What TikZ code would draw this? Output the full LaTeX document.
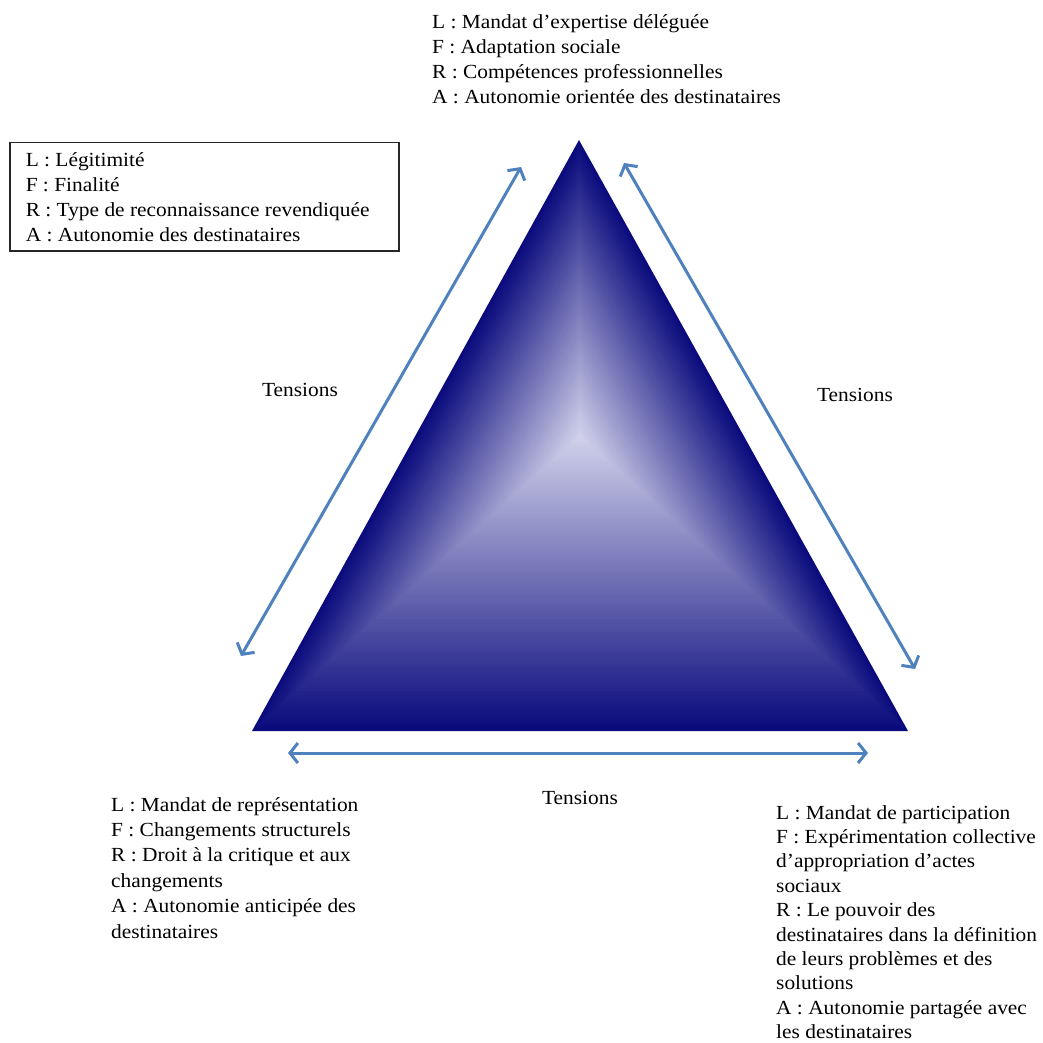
\documentclass[tikz,border=0pt]{standalone}
\usepackage{fontspec}
\setmainfont{Liberation Serif}[FakeStretch=1.07]
\usetikzlibrary{arrows.meta,calc,positioning}
\definecolor{navyedge}{RGB}{10,10,125}
\definecolor{lavcenter}{RGB}{208,208,234}
\definecolor{arrowblue}{RGB}{79,129,189}

\begin{document}
\begin{tikzpicture}[x=1pt, y=-1pt, font=\fontsize{20}{25}\selectfont,
    bloc/.style={anchor=north west, align=flush left, inner sep=0pt},
    motcote/.style={inner sep=0pt},
    fleche/.style={arrowblue, line width=3pt,
      {Straight Barb[length=8pt,width=20pt]}-{Straight Barb[length=8pt,width=20pt]}}]
  \useasboundingbox (0,0) rectangle (1042,1043);

  % sommets du triangle
  \coordinate (apex) at (579,140);
  \coordinate (bl) at (252,731);
  \coordinate (br) at (908,731);
  \coordinate (ctr) at (580,436);

  % degrade du centre vers les bords
  \foreach \k in {0,...,89}{
    \pgfmathsetmacro\fr{1-\k/90}
    \pgfmathsetmacro\mix{100*\k/89}
    \fill[lavcenter!\mix!navyedge] ($(ctr)!\fr!(apex)$) -- ($(ctr)!\fr!(bl)$) -- ($(ctr)!\fr!(br)$) -- cycle;
  }

  % textes
  \node[bloc] (haut) at (432,14) {L : Mandat d’expertise déléguée\\F : Adaptation sociale\\R : Compétences professionnelles\\A : Autonomie orientée des destinataires};
  \node[draw=black!85, line width=1.5pt, anchor=north west, align=flush left, text width=357pt, minimum width=389pt, minimum height=108pt, inner xsep=16pt] (legende) at (9,142) {L : Légitimité\\F : Finalité\\R : Type de reconnaissance revendiquée\\A : Autonomie des destinataires};
  \node[bloc, font=\fontsize{20}{25.4}\selectfont] (basgauche) at (111,797) {L : Mandat de représentation\\F : Changements structurels\\R : Droit à la critique et aux\\changements\\A : Autonomie anticipée des\\destinataires};
  \node[bloc, font=\fontsize{20}{24.4}\selectfont] (basdroite) at (776,805) {L : Mandat de participation\\F : Expérimentation collective\\d’appropriation d’actes\\sociaux\\R : Le pouvoir des\\destinataires dans la définition\\de leurs problèmes et des\\solutions\\A : Autonomie partagée avec\\les destinataires};

  \node[motcote] (tgauche) at (300,390) {Tensions};
  \node[motcote] (tdroite) at (855,395) {Tensions};
  \node[motcote] (tbas) at (580,798) {Tensions};

  % fleches
  \coordinate (g1) at (241,656);
  \coordinate (g2) at (521,167);
  \coordinate (d1) at (624,163);
  \coordinate (d2) at (915,669);
  \coordinate (b1) at (288,753);
  \coordinate (b2) at (868,753);
  \draw[fleche] (g1) -- (g2);
  \draw[fleche] (d1) -- (d2);
  \draw[fleche] (b1) -- (b2);
\end{tikzpicture}
\end{document}
